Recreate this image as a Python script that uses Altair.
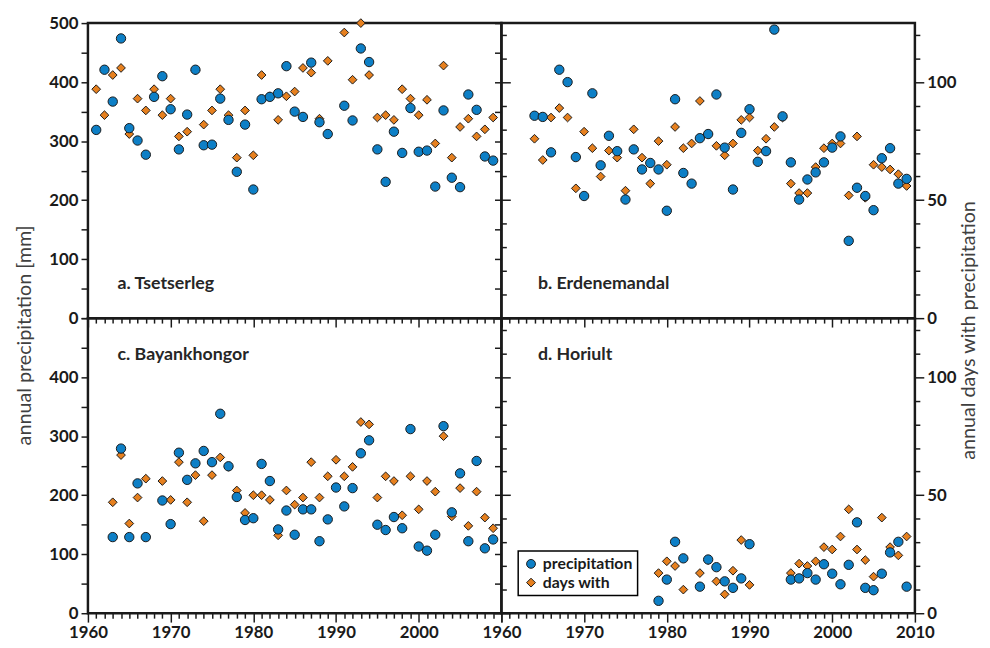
import altair as alt
import pandas as pd

FONT = "Lato"

series_names = ["precipitation", "days with"]
series_colors = ["#0d7fc6", "#e6801f"]
series_shapes = ["circle", "diamond"]

panel_labels = ["a. Tsetserleg", "b. Erdenemandal", "c. Bayankhongor", "d. Horiult"]
y_title_left = "annual precipitation [mm]"
y_title_right = "annual days with precipitation"

# a. Tsetserleg
years_a = list(range(1961, 1990)) + list(range(1991, 2010))
precip_a = [319, 421, 367, 474, 322, 301, 277, 375, 410, 354, 286, 345, 421, 293, 294,
            372, 336, 248, 328, 218, 371, 375, 381, 427, 350, 341, 433, 332, 312,
            360, 335, 457, 434, 286, 231, 316, 280, 356, 282, 284, 223, 352, 238, 222,
            379, 353, 274, 267]
days_a = [97, 86, 103, 106, 78, 93, 88, 97, 86, 93, 77, 79, 105, 82, 88,
          97, 86, 68, 88, 69, 103, 94, 84, 94, 96, 106, 104, 84.5, 109,
          121, 101, 125, 103, 85, 86, 84, 97, 93, 86, 92.5, 74, 107, 68, 81,
          84.5, 77, 80, 85]

# b. Erdenemandal
years_b = list(range(1964, 2010))
precip_b = [343, 341, 281, 421, 400, 273, 207, 381, 259, 309, 283, 201, 286, 252, 263,
            252, 182, 371, 246, 228, 305, 312, 379, 289, 218, 314, 354, 265, 283, 489,
            342, 264, 201, 235, 247, 264, 289, 308, 131, 221, 207, 183, 271, 288, 228, 236]
days_b = [76, 67, 85, 89, 85, 55, 79, 72, 60, 71, 68, 54, 80, 68, 57,
          75, 65, 81, 72, 74, 92, 78, 73, 69, 74, 84, 85, 71, 76, 81,
          85, 57, 53, 53, 64, 72, 74, 74, 52, 77, 51, 65, 64, 63, 61, 56]

# c. Bayankhongor
years_c = list(range(1963, 1968)) + list(range(1969, 2010))
precip_c = [129, 279, 129, 220, 129, 191, 151, 272, 226, 254, 275, 256, 338, 249, 197,
            158, 161, 253, 224, 142, 174, 133, 176, 176, 122, 159, 213, 181, 212, 271,
            293, 150, 141, 163, 144, 312, 113, 106, 133, 317, 171, 237, 122, 258, 110, 125]
days_c = [47, 67, 38, 49, 57, 56, 48, 64, 47, 58.5, 39, 58.5, 66, 62, 52,
          42.5, 50, 50, 48, 33, 52, 46, 49, 64, 49, 58, 65, 58, 62, 81,
          80, 49, 58, 56, 41.5, 58, 44, 56, 51.5, 75, 41, 53, 37, 51.5, 40.5, 36]

# d. Horiult
years_d = list(range(1979, 1983)) + list(range(1984, 1991)) + list(range(1995, 2010))
precip_d = [21, 57, 121, 93, 45, 91, 78, 54, 43, 59, 117, 57, 59, 68, 57, 83, 67, 49,
            82, 154, 43, 39, 67, 103, 121, 45]
days_d = [17, 22, 20, 10, 17, 22.5, 13.5, 8, 18, 31, 12, 17, 21, 20, 22, 28, 27, 32.5,
          44, 27, 22.5, 15.5, 40.5, 28, 24.5, 32.5]

W, H = 419, 299


def make_panel(years, precip, days, label, left, top, legend):
    df = pd.DataFrame({"year": years, "precip": precip, "days": days})
    lab_df = pd.DataFrame({"label": [label]})

    xlab_max = 2000 if left else 2010
    x = alt.X(
        "year:Q",
        scale=alt.Scale(domain=[1960, 2010], nice=False, zero=False),
        axis=alt.Axis(
            values=list(range(1960, 2011)),
            labelExpr=f"datum.value % 10 == 0 && datum.value <= {xlab_max} ? datum.label : ''",
            labels=not top,
            format="d",
            tickSize={"condition": {"test": "datum.value % 10 == 0", "value": 9}, "value": 5},
            labelOverlap=False,
            labelFlush=False,
            grid=False,
            domain=False,
            title=None,
        ),
    )

    mm_max_label = 500 if top else 400
    p_axis_kw = dict(
        orient="left",
        values=list(range(0, 501, 50)),
        labelExpr=f"datum.value % 100 == 0 && datum.value <= {mm_max_label} ? datum.label : ''",
        labels=left,
        tickSize=7,
        labelOverlap=False,
        grid=False,
        domain=False,
        title=None,
    )
    if left and top:
        p_axis_kw.update(title=y_title_left, titleX=-64, titleY=316, titleAngle=270,
                         titleAlign="center", titleBaseline="middle")
    d_axis_kw = dict(
        orient="right",
        values=list(range(0, 121, 10)),
        labelExpr="datum.value % 50 == 0 ? datum.label : ''",
        labels=not left,
        tickSize={"condition": {"test": "datum.value % 50 == 0", "value": 9}, "value": 5},
        labelOverlap=False,
        grid=False,
        domain=False,
        title=None,
    )
    if (not left) and top:
        d_axis_kw.update(title=y_title_right, titleX=54, titleY=311, titleAngle=270,
                         titleAlign="center", titleBaseline="middle")

    if legend:
        leg = alt.Legend(orient="none", legendX=17, legendY=236, title=None,
                         strokeColor="black", fillColor="white", padding=5,
                         labelFont=FONT, labelFontWeight="bold", labelFontSize=16,
                         labelColor="#1a1a1a", symbolSize=80, symbolStrokeColor="#1a1a1a",
                         symbolStrokeWidth=1, rowPadding=3)
    else:
        leg = None

    color = alt.Color("series:N", scale=alt.Scale(domain=series_names, range=series_colors), legend=leg)
    shape = alt.Shape("series:N", scale=alt.Scale(domain=series_names, range=series_shapes), legend=leg)

    days_layer = alt.Chart(df).transform_calculate(series="'days with'").mark_point(
        filled=True, size=78, stroke="#1a1a1a", strokeWidth=1, opacity=1
    ).encode(
        x=x,
        y=alt.Y("days:Q", scale=alt.Scale(domain=[0, 125], nice=False), axis=alt.Axis(**d_axis_kw)),
        color=color,
        shape=shape,
    )
    precip_layer = alt.Chart(df).transform_calculate(series="'precipitation'").mark_point(
        filled=True, size=90, stroke="#1a1a1a", strokeWidth=1, opacity=1
    ).encode(
        x=x,
        y=alt.Y("precip:Q", scale=alt.Scale(domain=[0, 500], nice=False), axis=alt.Axis(**p_axis_kw)),
        color=color,
        shape=shape,
    )
    text_layer = alt.Chart(lab_df).mark_text(
        align="left", baseline="alphabetic", font=FONT, fontWeight="bold", fontSize=18, color="#262626"
    ).encode(
        x=alt.value(30 if left else 37),
        y=alt.value(269 if top else 42),
        text="label:N",
    )
    return alt.layer(days_layer, precip_layer, text_layer).resolve_scale(y="independent").properties(
        width=W, height=H
    )


pa = make_panel(years_a, precip_a, days_a, panel_labels[0], left=True, top=True, legend=False)
pb = make_panel(years_b, precip_b, days_b, panel_labels[1], left=False, top=True, legend=False)
pc = make_panel(years_c, precip_c, days_c, panel_labels[2], left=True, top=False, legend=False)
pd_ = make_panel(years_d, precip_d, days_d, panel_labels[3], left=False, top=False, legend=True)

chart = alt.concat(pa, pb, pc, pd_, columns=2, spacing=0, bounds="flush").resolve_scale(
    color="independent", shape="independent"
).properties(
    padding={"left": 5, "top": 0, "right": 2, "bottom": 5}, background="white"
).configure_view(
    stroke="#1a1a1a", strokeWidth=2.5
).configure_axis(
    labelFont=FONT, labelFontWeight="bold", labelFontSize=17, labelColor="#1a1a1a",
    tickColor="#1a1a1a", tickWidth=1.5, labelPadding=3,
    titleFont=FONT, titleFontWeight="normal", titleFontSize=20, titleColor="#404040",
).configure_legend(strokeWidth=1.5)

chart.save("out.html", embed_options={"renderer": "svg", "actions": False})
